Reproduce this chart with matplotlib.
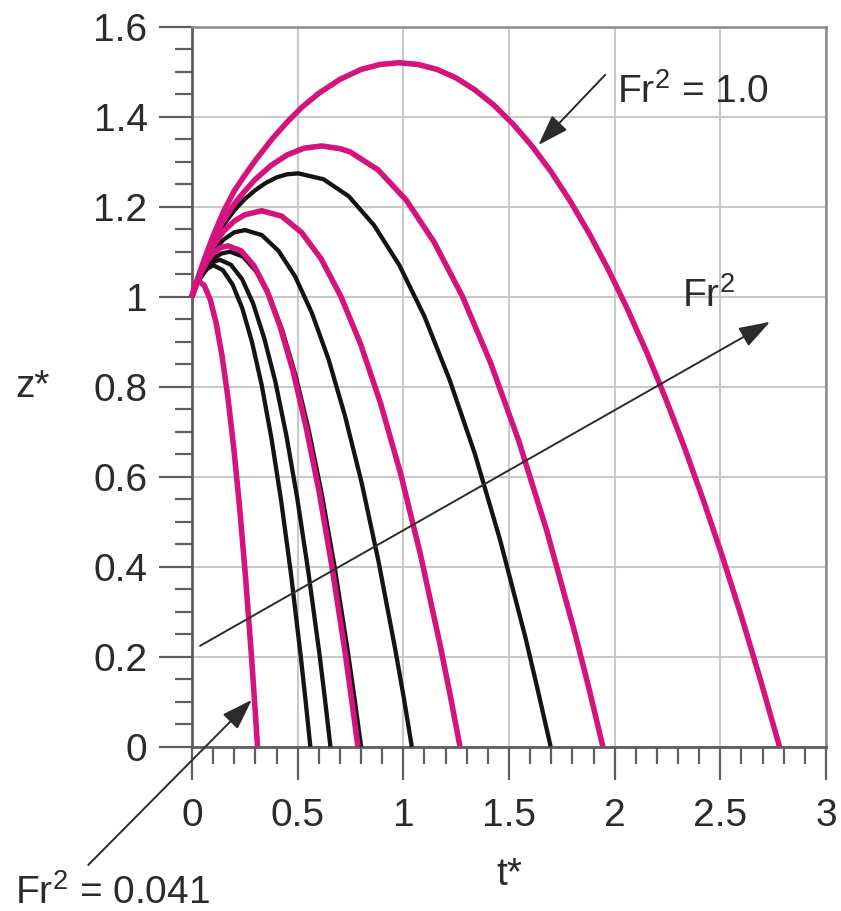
import numpy as np
import matplotlib.pyplot as plt
from matplotlib.ticker import FixedLocator, FixedFormatter, MultipleLocator

plt.rcParams['font.family'] = ['Liberation Sans', 'DejaVu Sans']
plt.rcParams['mathtext.fontset'] = 'custom'
plt.rcParams['mathtext.rm'] = 'Liberation Sans'

# curves (t*, z*), magenta and black families
m1_t = [0.0, 0.02, 0.04, 0.07, 0.10, 0.15, 0.20, 0.25, 0.30, 0.38, 0.45, 0.52, 0.60, 0.70, 0.80, 0.89, 0.98,
        1.07, 1.16, 1.25, 1.34, 1.43, 1.52, 1.61, 1.70, 1.79, 1.88, 1.97, 2.06, 2.15, 2.24, 2.33, 2.42, 2.51,
        2.60, 2.69, 2.78]
m1_z = [1.00, 1.03, 1.058, 1.098, 1.135, 1.19, 1.235, 1.270, 1.303, 1.351, 1.388, 1.421, 1.452, 1.483, 1.505, 1.516, 1.520,
        1.516, 1.505, 1.486, 1.459, 1.425, 1.383, 1.334, 1.277, 1.212, 1.140, 1.060, 0.973, 0.878, 0.775, 0.665, 0.547, 0.422,
        0.289, 0.148, 0.0]

m2_t = [0.0, 0.02, 0.04, 0.07, 0.10, 0.15, 0.20, 0.25, 0.30, 0.375, 0.45, 0.53, 0.614, 0.70, 0.747, 0.880,
        1.013, 1.146, 1.279, 1.412, 1.545, 1.678, 1.811, 1.878, 1.944]
m2_z = [1.00, 1.03, 1.057, 1.095, 1.128, 1.170, 1.206, 1.235, 1.261, 1.292, 1.315, 1.330, 1.335, 1.329, 1.322, 1.282,
        1.215, 1.121, 1.001, 0.854, 0.681, 0.481, 0.254, 0.130, 0.0]

m3_t = [0.0, 0.02, 0.04, 0.07, 0.10, 0.15, 0.20, 0.25, 0.33, 0.424, 0.518, 0.611, 0.705, 0.799, 0.893,
        0.987, 1.080, 1.174, 1.221, 1.268]
m3_z = [1.00, 1.028, 1.053, 1.086, 1.113, 1.146, 1.168, 1.182, 1.191, 1.179, 1.143, 1.084, 1.000, 0.893, 0.762,
        0.607, 0.429, 0.226, 0.116, 0.0]

m4_t = [0.0, 0.02, 0.04, 0.07, 0.10, 0.135, 0.17, 0.232, 0.293, 0.355, 0.416, 0.478, 0.539, 0.601, 0.662,
        0.724, 0.754, 0.785]
m4_z = [1.00, 1.027, 1.05, 1.078, 1.097, 1.109, 1.113, 1.102, 1.069, 1.013, 0.935, 0.835, 0.712, 0.568, 0.401,
        0.211, 0.109, 0.0]

m5_t = [0.0, 0.012, 0.02, 0.03, 0.058, 0.086, 0.114, 0.142, 0.170, 0.198, 0.226, 0.254, 0.282, 0.296, 0.31]
m5_z = [1.00, 1.025, 1.032, 1.035, 1.025, 0.994, 0.942, 0.869, 0.776, 0.662, 0.528, 0.373, 0.197, 0.101, 0.0]

k1_t = [0.0, 0.02, 0.04, 0.07, 0.10, 0.15, 0.20, 0.25, 0.30, 0.35, 0.40, 0.45, 0.503, 0.622, 0.742, 0.861,
        0.981, 1.100, 1.219, 1.339, 1.458, 1.578, 1.637, 1.697]
k1_z = [1.00, 1.029, 1.055, 1.092, 1.123, 1.160, 1.192, 1.217, 1.237, 1.253, 1.265, 1.272, 1.274, 1.261, 1.223, 1.159,
        1.070, 0.956, 0.815, 0.650, 0.459, 0.242, 0.124, 0.0]

k2_t = [0.0, 0.02, 0.04, 0.07, 0.10, 0.15, 0.20, 0.251, 0.330, 0.409, 0.488, 0.567, 0.646, 0.724, 0.803,
        0.882, 0.961, 1.001, 1.04]
k2_z = [1.00, 1.027, 1.051, 1.080, 1.101, 1.127, 1.143, 1.148, 1.137, 1.102, 1.045, 0.964, 0.861, 0.735, 0.586,
        0.413, 0.218, 0.112, 0.0]

k3_t = [0.0, 0.02, 0.04, 0.07, 0.10, 0.14, 0.18, 0.242, 0.304, 0.366, 0.428, 0.490, 0.552, 0.614, 0.676,
        0.738, 0.769, 0.80]
k3_z = [1.00, 1.025, 1.045, 1.070, 1.085, 1.096, 1.100, 1.089, 1.056, 1.001, 0.924, 0.825, 0.704, 0.561, 0.396,
        0.209, 0.107, 0.0]

k4_t = [0.0, 0.02, 0.04, 0.07, 0.10, 0.132, 0.184, 0.237, 0.289, 0.341, 0.394, 0.446, 0.498, 0.550, 0.603,
        0.629, 0.655]
k4_z = [1.00, 1.024, 1.044, 1.064, 1.077, 1.082, 1.071, 1.039, 0.985, 0.909, 0.812, 0.693, 0.552, 0.390, 0.206,
        0.106, 0.0]

k5_t = [0.0, 0.02, 0.04, 0.07, 0.10, 0.146, 0.192, 0.238, 0.284, 0.330, 0.376, 0.422, 0.468, 0.514, 0.537, 0.56]
k5_z = [1.00, 1.023, 1.042, 1.061, 1.070, 1.059, 1.027, 0.974, 0.899, 0.803, 0.685, 0.546, 0.385, 0.203, 0.104, 0.0]

x_ticks = [0, 0.5, 1, 1.5, 2, 2.5, 3]
x_labels = ['0', '0.5', '1', '1.5', '2', '2.5', '3']
y_ticks = [0, 0.2, 0.4, 0.6, 0.8, 1.0, 1.2, 1.4, 1.6]
y_labels = ['0', '0.2', '0.4', '0.6', '0.8', '1', '1.2', '1.4', '1.6']

MAGENTA = '#d4137f'
INK = '#2b2b2b'
AXIS_GRAY = '#5e5e5e'
GRID_GRAY = '#c9c9c9'

fig = plt.figure(figsize=(8.41, 9.11), dpi=100)
ax = fig.add_axes([0.2283, 0.1804, 0.7539, 0.7903])

black_curves = [(k1_t, k1_z), (k2_t, k2_z), (k3_t, k3_z), (k4_t, k4_z), (k5_t, k5_z)]
magenta_curves = [(m1_t, m1_z), (m2_t, m2_z), (m3_t, m3_z), (m4_t, m4_z), (m5_t, m5_z)]

for t, z in black_curves:
    ax.plot(t, z, color='#141414', lw=3.1, solid_joinstyle='round', solid_capstyle='butt', zorder=3, clip_on=False)
for t, z in magenta_curves:
    ax.plot(t, z, color=MAGENTA, lw=4.0, solid_joinstyle='round', solid_capstyle='butt', zorder=4, clip_on=False)

ax.set_xlim(0, 3)
ax.set_ylim(0, 1.6)

ax.xaxis.set_major_locator(FixedLocator(x_ticks))
ax.xaxis.set_major_formatter(FixedFormatter(x_labels))
ax.yaxis.set_major_locator(FixedLocator(y_ticks))
ax.yaxis.set_major_formatter(FixedFormatter(y_labels))
ax.xaxis.set_minor_locator(MultipleLocator(0.1))
ax.yaxis.set_minor_locator(MultipleLocator(0.05))

ax.tick_params(which='major', direction='out', length=24, width=1.6, color=AXIS_GRAY,
               labelsize=28, labelcolor=INK)
ax.tick_params(which='minor', direction='out', length=12, width=1.6, color=AXIS_GRAY)
ax.tick_params(axis='x', which='major', pad=13)
ax.tick_params(axis='y', which='major', pad=8)

ax.grid(True, which='major', color=GRID_GRAY, lw=1.5, zorder=0)
ax.set_axisbelow(True)
for side in ['left', 'bottom']:
    ax.spines[side].set_color(AXIS_GRAY)
    ax.spines[side].set_linewidth(2.0)
for side in ['top', 'right']:
    ax.spines[side].set_color('#8a8a8a')
    ax.spines[side].set_linewidth(1.8)

# axis labels placed like the original
ax.text(-0.838, 0.778, 'z*', fontsize=28, color=INK, ha='left', va='baseline', clip_on=False)
ax.text(1.439, -0.307, 't*', fontsize=28, color=INK, ha='left', va='baseline', clip_on=False)

arrow_style = dict(arrowstyle='-|>,head_length=0.8,head_width=0.27', color=INK, lw=1.4,
                   mutation_scale=24, shrinkA=0, shrinkB=0)

ax.text(2.011, 1.43, r'Fr$^{\mathregular{2}}$ = 1.0', fontsize=28, color=INK,
        ha='left', va='baseline', clip_on=False)
ax.annotate('', xy=(1.639, 1.337), xytext=(1.955, 1.493), arrowprops=arrow_style,
            annotation_clip=False, zorder=6)

ax.text(2.317, 0.978, r'Fr$^{\mathregular{2}}$', fontsize=28, color=INK,
        ha='left', va='baseline', clip_on=False)
ax.annotate('', xy=(2.735, 0.944), xytext=(0.038, 0.224), arrowprops=arrow_style,
            annotation_clip=False, zorder=6)

ax.text(-0.838, -0.350, r'Fr$^{\mathregular{2}}$ = 0.041', fontsize=28, color=INK,
        ha='left', va='baseline', clip_on=False)
ax.annotate('', xy=(0.283, 0.104), xytext=(-0.491, -0.263), arrowprops=arrow_style,
            annotation_clip=False, zorder=6)

fig.savefig('out.png', dpi=100)
